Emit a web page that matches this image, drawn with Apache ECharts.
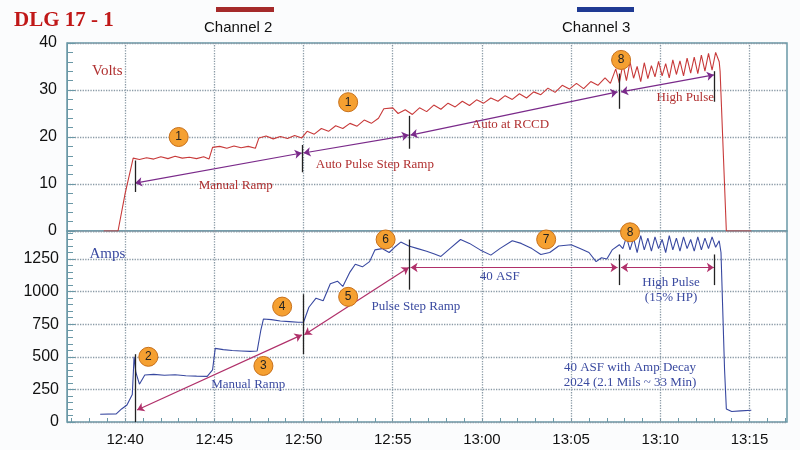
<!DOCTYPE html>
<html>
<head>
<meta charset="utf-8" />
<title>DLG 17 - 1</title>
<script src="https://cdn.jsdelivr.net/npm/echarts@6/dist/echarts.min.js"></script>
</head>
<body style="margin:0;background:#fbfcfd">
<div id="main" style="width:800px;height:450px;"></div>
<script>
// time in minutes after 12:00
var voltT = [38.8,39.6,40.0,40.45,40.8,41.2,41.6,42,42.4,42.8,43.2,43.6,44,44.4,44.7,44.9,45.3,45.7,46.1,46.5,46.9,47.3,47.5,47.9,48.3,48.7,49.1,49.5,49.9,50.2,50.6,51,51.4,51.8,52.2,52.6,53,53.4,53.8,54.2,54.5,55,55.3,55.7,56.1,56.5,56.9,57.3,57.7,58.1,58.5,58.9,59.3,59.7,60.1,60.5,60.9,61.3,61.7,62.1,62.5,62.9,63.3,63.7,64.1,64.5,64.9,65.3,65.7,66.1,66.5,66.9,67.2,67.5,67.7,67.9,68.1,68.3,68.5,68.7,68.9,69.1,69.3,69.5,69.7,69.9,70.1,70.3,70.5,70.7,70.9,71.1,71.3,71.5,71.7,71.9,72.1,72.3,72.5,72.7,72.9,73.1,73.3,73.35,73.7,75.1];
var voltV = [0,0,8,15.5,15.2,15.6,15.3,15.8,15.4,15.9,15.5,15.7,15.4,15.8,15.3,17.8,18.0,17.6,18.1,17.7,18.0,17.6,19.8,20.2,19.6,20.1,19.7,20.3,19.8,21.2,20.6,21.8,21.2,22.4,21.8,22.9,22.3,23.6,22.9,24.0,26.0,26.2,25.0,25.8,24.8,26.2,25.4,26.8,25.9,27.2,26.4,27.6,26.7,27.9,27.2,28.3,27.6,28.8,28.0,29.2,28.3,29.6,29.0,30.4,29.5,31.0,30.2,31.4,30.3,31.8,31.0,32.6,31.4,34.5,31.5,35.5,32.0,36.0,32.5,35.0,31.8,35.8,32.4,35.2,32.8,36.1,33.0,35.6,32.6,36.4,33.3,36.2,33.0,36.8,33.6,37.0,33.5,37.4,34.0,37.8,34.2,38.0,36.0,34,0,0];
var ampT = [38.6,39.5,39.8,40.1,40.4,40.5,40.6,40.8,41.1,41.6,42.2,42.8,43.4,44,44.6,44.9,45.05,45.5,46,46.5,47,47.4,47.6,47.75,48.2,48.7,49.2,49.7,50,50.3,50.7,51.1,51.5,51.9,52.2,52.6,52.9,53.3,53.7,54.0,54.4,54.8,55.1,55.45,55.9,56.4,56.9,57.3,57.7,58.2,58.8,59.3,59.9,60.5,61.0,61.7,62.2,62.8,63.3,63.8,64.3,65.0,65.5,66.0,66.4,66.7,67.0,67.3,67.7,67.9,68.1,68.3,68.5,68.7,68.9,69.1,69.3,69.5,69.7,69.9,70.1,70.3,70.5,70.7,70.9,71.1,71.3,71.5,71.7,71.9,72.1,72.3,72.5,72.7,72.9,73.1,73.3,73.4,73.6,73.7,74,74.5,75.1];
var ampV = [60,62,100,130,210,500,380,290,360,365,358,362,355,352,350,400,565,555,548,545,542,545,700,790,785,775,770,765,765,880,950,930,1060,1080,1040,1150,1210,1190,1230,1320,1330,1300,1340,1380,1350,1330,1310,1290,1270,1330,1400,1370,1320,1280,1330,1390,1370,1330,1285,1300,1350,1360,1330,1300,1230,1260,1250,1320,1360,1330,1420,1320,1410,1300,1430,1320,1410,1310,1420,1330,1400,1300,1430,1320,1410,1310,1420,1330,1400,1310,1420,1320,1410,1330,1420,1340,1390,1300,400,100,80,85,90];
var timeLabels = [40,45,50,55,60,65,70,75];

function pairs(t, v) { return t.map(function (x, i) { return [x, v[i]]; }); }
var minuteTicks = [];
for (var m = 37; m <= 77; m++) minuteTicks.push(m);

var serif = 'Liberation Serif';
function circle(t, v, n) {
  return { coord: [t, v], value: n, symbol: 'circle', symbolSize: 19,
    itemStyle: { color: '#f5a031', borderColor: '#c8701a', borderWidth: 1 },
    label: { show: true, formatter: n, color: '#222', fontSize: 12, fontFamily: 'Liberation Sans' } };
}
function note(t, v, txt, color, size) {
  return { coord: [t, v], symbolSize: 0,
    label: { show: true, position: 'inside', formatter: txt, color: color, fontSize: size || 13, fontFamily: serif, lineHeight: 15 } };
}
function seg(a, b) { return [{ coord: a }, { coord: b }]; }
function vline(t, y0, y1) { return [{ coord: [t, y0] }, { coord: [t, y1] }]; }

var gridV = timeLabels.map(function (m) { return { xAxis: m }; });

var xBase = {
  type: 'value', min: 36.74, max: 77.1,
  axisLine: { show: false }, splitLine: { show: false }
};
var myChart = echarts.init(document.getElementById('main'));
myChart.setOption({
  backgroundColor: '#fbfcfd',
  animation: false,
  graphic: [
    { type: 'text', left: 14, top: 10, style: { text: 'DLG 17 - 1', fill: '#c01818', font: 'bold 21px "Liberation Serif"' } },
    { type: 'rect', shape: { x: 216, y: 7, width: 58, height: 5 }, style: { fill: '#a52a2a' } },
    { type: 'text', x: 204, y: 20, style: { text: 'Channel 2', fill: '#111', font: '15px "Liberation Sans"' } },
    { type: 'rect', shape: { x: 577, y: 7, width: 57, height: 5 }, style: { fill: '#1f3a93' } },
    { type: 'text', x: 562, y: 20, style: { text: 'Channel 3', fill: '#111', font: '15px "Liberation Sans"' } }
  ],
  grid: [
    { left: 67, right: 13, top: 43, height: 188, show: true, backgroundColor: '#fff', borderColor: '#6a98a6', borderWidth: 1.5 },
    { left: 67, right: 13, top: 231, height: 191, show: true, backgroundColor: '#fff', borderColor: '#6a98a6', borderWidth: 1.5 }
  ],
  xAxis: [
    Object.assign({ gridIndex: 0, axisTick: { show: false }, axisLabel: { show: false } }, xBase),
    Object.assign({ gridIndex: 1,
      axisTick: { show: true, inside: true, length: 4, customValues: minuteTicks, lineStyle: { color: '#6a98a6' } },
      axisLabel: { customValues: timeLabels, color: '#111', fontSize: 15, fontFamily: 'Liberation Sans', margin: 10,
        formatter: function (v) { var h = 12 + Math.floor(v / 60), mm = Math.round(v % 60); return h + ':' + (mm < 10 ? '0' + mm : mm); } } }, xBase)
  ],
  yAxis: [
    { gridIndex: 0, type: 'value', min: 0, max: 40, interval: 10,
      axisLine: { show: true, lineStyle: { color: '#6a98a6' } },
      axisTick: { show: true, inside: true, length: 8, lineStyle: { color: '#6a98a6' } },
      minorTick: { show: true, splitNumber: 5, length: 6, lineStyle: { color: '#6a98a6' } },
      axisLabel: { color: '#111', fontSize: 16, fontFamily: 'Liberation Sans', margin: 10 },
      splitLine: { lineStyle: { type: 'dotted', color: '#8a9aa6', width: 1.3 } } },
    { gridIndex: 1, type: 'value', min: 0, max: 1465, interval: 250,
      axisLine: { show: true, lineStyle: { color: '#6a98a6' } },
      axisTick: { show: true, inside: true, length: 8, lineStyle: { color: '#6a98a6' } },
      minorTick: { show: true, splitNumber: 5, length: 6, lineStyle: { color: '#6a98a6' } },
      axisLabel: { color: '#111', fontSize: 16, fontFamily: 'Liberation Sans', margin: 8,
        showMaxLabel: false, formatter: function (v) { return String(v); } },
      splitLine: { lineStyle: { type: 'dotted', color: '#8a9aa6', width: 1.3 } } }
  ],
  series: [
    { type: 'line', name: 'Channel 2', xAxisIndex: 0, yAxisIndex: 0, data: pairs(voltT, voltV),
      symbol: 'none', lineStyle: { color: '#c83a3a', width: 1.1 }, z: 3,
      markLine: { silent: true, symbol: 'none', label: { show: false }, z: 1,
        lineStyle: { type: 'dotted', color: '#8a9aa6', width: 1.3 }, data: gridV },
      markPoint: { silent: true, data: [
        circle(43, 20, '1'), circle(52.5, 27.4, '1'), circle(67.8, 36.4, '8'),
        note(39.0, 34, 'Volts', '#b03030', 15),
        note(46.2, 9.6, 'Manual Ramp', '#b03030'),
        note(54.0, 14.2, 'Auto Pulse Step Ramp', '#b03030'),
        note(61.6, 22.6, 'Auto at RCCD', '#b03030'),
        note(71.4, 28.4, 'High Pulse', '#b03030')
      ] } },
    { type: 'line', xAxisIndex: 0, yAxisIndex: 0, data: [], silent: true,
      markLine: { silent: true, symbol: ['arrow', 'arrow'], symbolSize: 7, label: { show: false },
        lineStyle: { type: 'solid', color: '#7a2a8a', width: 1.2 },
        data: [seg([40.56, 10.2], [49.9, 16.6]), seg([50.0, 16.6], [55.9, 20.4]), seg([56.0, 20.4], [67.6, 29.6]), seg([67.8, 29.6], [73.0, 33.2])] } },
    { type: 'line', xAxisIndex: 0, yAxisIndex: 0, data: [], silent: true,
      markLine: { silent: true, symbol: 'none', label: { show: false },
        lineStyle: { type: 'solid', color: '#222', width: 1.3 },
        data: [vline(40.56, 15, 8.3), vline(49.95, 18.3, 12.5), vline(55.9, 24.5, 17.5), vline(67.7, 33.5, 26), vline(73.0, 34, 27.5)] } },
    { type: 'line', name: 'Channel 3', xAxisIndex: 1, yAxisIndex: 1, data: pairs(ampT, ampV),
      symbol: 'none', lineStyle: { color: '#3848a0', width: 1.1 }, z: 3,
      markLine: { silent: true, symbol: 'none', label: { show: false }, z: 1,
        lineStyle: { type: 'dotted', color: '#8a9aa6', width: 1.3 }, data: gridV },
      markPoint: { silent: true, data: [
        circle(41.3, 500, '2'), circle(47.75, 430, '3'), circle(48.8, 885, '4'), circle(52.5, 960, '5'),
        circle(54.6, 1400, '6'), circle(63.6, 1400, '7'), circle(68.3, 1455, '8'),
        note(39.0, 1290, 'Amps', '#3a4aa0', 15),
        note(46.9, 285, 'Manual Ramp', '#3a4aa0'),
        note(56.3, 885, 'Pulse Step Ramp', '#3a4aa0'),
        note(61.0, 1115, '40 ASF', '#3a4aa0'),
        note(70.6, 1010, 'High Pulse\n(15% HP)', '#3a4aa0'),
        note(68.3, 360, '40 ASF with Amp Decay\n2024 (2.1 Mils ~ 33 Min)', '#3a4aa0')
      ] } },
    { type: 'line', xAxisIndex: 1, yAxisIndex: 1, data: [], silent: true,
      markLine: { silent: true, symbol: ['arrow', 'arrow'], symbolSize: 7, label: { show: false },
        lineStyle: { type: 'solid', color: '#b0306a', width: 1.2 },
        data: [seg([40.67, 92], [49.9, 668]), seg([50.05, 670], [55.9, 1185]), seg([56.0, 1185], [67.6, 1185]), seg([67.8, 1185], [73.0, 1185])] } },
    { type: 'line', xAxisIndex: 1, yAxisIndex: 1, data: [], silent: true,
      markLine: { silent: true, symbol: 'none', label: { show: false },
        lineStyle: { type: 'solid', color: '#222', width: 1.3 },
        data: [vline(40.55, 0, 520), vline(50.0, 980, 520), vline(55.9, 1400, 1015), vline(67.7, 1285, 1050), vline(73.0, 1285, 1050)] } }
  ]
});
</script>
</body>
</html>
